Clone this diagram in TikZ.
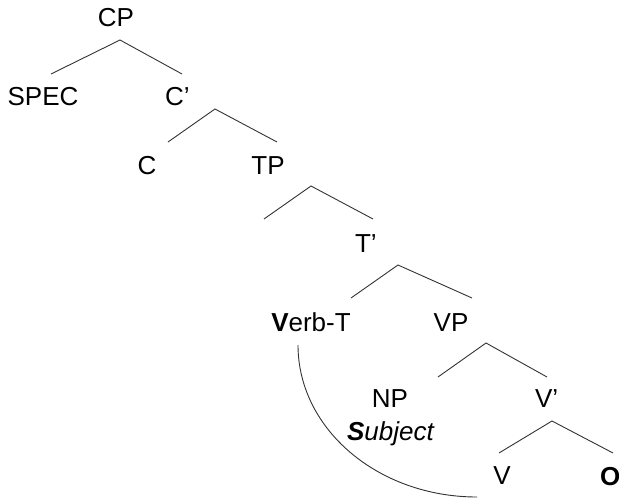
\documentclass[tikz,border=0pt]{standalone}
\usepackage{fontspec}
\setmainfont{Liberation Sans}
\begin{document}
\begin{tikzpicture}[x=1pt,y=-1pt,
  lbl/.style={inner sep=0pt,outer sep=0pt,font=\fontsize{26}{30}\selectfont,text=black},
  branch/.style={draw=black!80,line width=0.9pt},
  movearc/.style={draw=black!80,line width=0.9pt}]
\useasboundingbox[fill=white] (0,0) rectangle (619,500);
% labels
\node[lbl,anchor=base] (cp) at (116,27) {CP};
\node[lbl,anchor=base] (spec) at (43,106) {SPEC};
\node[lbl,anchor=base west] (cbar) at (165,106) {C’};
\node[lbl,anchor=base] (c) at (147,175) {C};
\node[lbl,anchor=base] (tp) at (268,175) {TP};
\node[lbl,anchor=base west] (tbar) at (355,252) {T’};
\node[lbl,anchor=base] (verbt) at (311,331) {{\bfseries V}erb-T};
\node[lbl,anchor=base] (vp) at (451,331) {VP};
\node[lbl,anchor=base] (np) at (390,407) {NP};
\node[lbl,anchor=base] (subj) at (390.5,440) {\itshape{\bfseries S}ubject};
\node[lbl,anchor=base west] (vbar) at (535,407) {V’};
\node[lbl,anchor=base] (v) at (502,484) {V};
\node[lbl,anchor=base west] (o) at (600,485) {\bfseries O};
% branch points
\coordinate (a1) at (120,40);  \coordinate (l1) at (51,74);   \coordinate (r1) at (182,74);
\coordinate (a2) at (215,109); \coordinate (l2) at (168,142); \coordinate (r2) at (277,142);
\coordinate (a3) at (311,186); \coordinate (l3) at (264,219); \coordinate (r3) at (373,219);
\coordinate (a4) at (398,265); \coordinate (l4) at (351,298); \coordinate (r4) at (472,298);
\coordinate (a5) at (486,343); \coordinate (l5) at (438,377); \coordinate (r5) at (547,377);
\coordinate (a6) at (552,421); \coordinate (l6) at (499,453); \coordinate (r6) at (613,453);
\foreach \i in {1,...,6} {\draw[branch] (l\i) -- (a\i) -- (r\i);}
% movement arc
\coordinate (arcs) at (298,345);
\coordinate (arce) at (477,497);
\draw[movearc] (arcs) .. controls (298,429) and (378,497) .. (arce);
\end{tikzpicture}
\end{document}
